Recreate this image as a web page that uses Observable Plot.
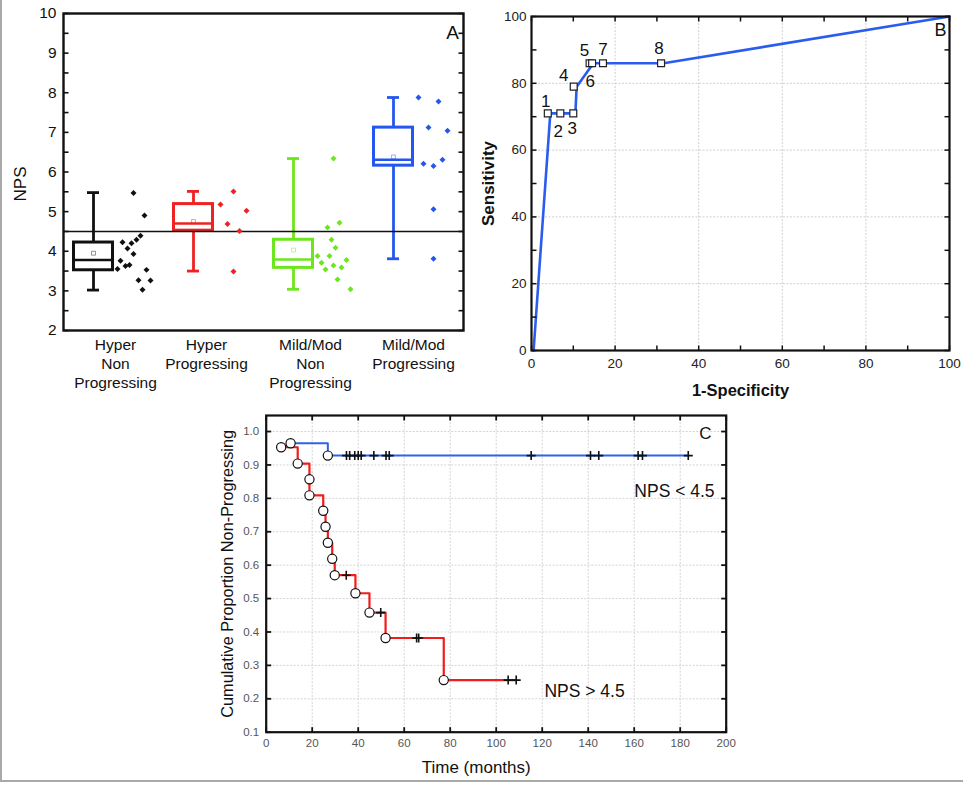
<!DOCTYPE html>
<html>
<head>
<meta charset="utf-8">
<script src="https://cdn.jsdelivr.net/npm/d3@7"></script>
<script src="https://cdn.jsdelivr.net/npm/@observablehq/plot@0.6"></script>
<style>
  body { margin: 0; background: #fff; }
  #fig { position: relative; width: 963px; height: 786px; overflow: hidden; background: #fff;
         font-family: "Liberation Sans", Arial, Helvetica, sans-serif; }
  .panel { position: absolute; }
  .panel svg { display: block; }
  #border { position: absolute; left: 0; top: 0; width: 961px; height: 780px;
            border-left: 2px solid #a9a9a9; border-bottom: 2px solid #a9a9a9; pointer-events: none; z-index: 2; }
</style>
</head>
<body>
<div id="fig">
  <div class="panel" id="pa" style="left:0px;top:0px"></div>
  <div class="panel" id="pb" style="left:470px;top:0px"></div>
  <div class="panel" id="pc" style="left:200px;top:400px"></div>
  <div id="border"></div>
</div>
<script>
// ---------------- DATA ----------------
// Panel A: NPS by group (box plots + individual values)
const groupLabels = ["Hyper\nNon\nProgressing", "Hyper\nProgressing", "Mild/Mod\nNon\nProgressing", "Mild/Mod\nProgressing"];
const groupColors = ["#111111", "#ee2222", "#6ee61e", "#2457ee"];
const boxMin    = [3.02, 3.50, 3.04, 3.81];
const boxQ1     = [3.52, 4.52, 3.58, 6.16];
const boxMedian = [3.78, 4.70, 3.79, 6.31];
const boxQ3     = [4.22, 5.19, 4.29, 7.12];
const boxMax    = [5.48, 5.51, 6.34, 7.88];
const boxMean   = [3.95, 4.75, 4.03, 6.38];
const npsCutoff = 4.5;

const hyperNonValues  = [5.47, 4.90, 4.39, 4.29, 4.20, 4.23, 4.07, 3.93, 3.76, 3.63, 3.65, 3.55, 3.53, 3.27, 3.26, 3.03];
const hyperNonJitter  = [0.40, 0.51, 0.47, 0.43, 0.38, 0.29, 0.34, 0.40, 0.27, 0.32, 0.36, 0.24, 0.53, 0.45, 0.57, 0.49];
const hyperProgValues = [5.51, 5.18, 5.02, 4.69, 4.51, 3.49];
const hyperProgJitter = [0.40, 0.27, 0.53, 0.34, 0.46, 0.40];
const mildNonValues   = [6.34, 4.72, 4.60, 4.29, 4.09, 3.88, 3.88, 3.71, 3.78, 3.64, 3.59, 3.54, 3.29, 3.04];
const mildNonJitter   = [0.40, 0.46, 0.34, 0.38, 0.42, 0.24, 0.36, 0.28, 0.53, 0.40, 0.48, 0.32, 0.44, 0.57];
const mildProgValues  = [7.88, 7.78, 7.12, 7.04, 6.21, 6.15, 6.31, 5.06, 3.81];
const mildProgJitter  = [0.25, 0.45, 0.35, 0.54, 0.30, 0.40, 0.49, 0.40, 0.40];
const yTicksA = [2, 3, 4, 5, 6, 7, 8, 9, 10];

// Panel B: ROC curve
const rocLabels = ["1", "2", "3", "4", "5", "6", "7", "8"];
const rocFpr    = [3.9, 6.9, 10.0, 10.1, 13.9, 14.5, 17.1, 31.0];
const rocSens   = [71, 71, 71, 79, 86, 86, 86, 86];
const rocLineFpr  = [0.5, 4.5, 10.5, 10.8, 14.8, 31.6, 100];
const rocLineSens = [0, 71, 71, 79, 86, 86, 100];
const ticksB = [0, 20, 40, 60, 80, 100];

// Panel C: Kaplan–Meier curves
const lowEventTime  = [10.6, 26.8];
const lowEventSurv  = [0.965, 0.928];
const lowCensorTime = [34.9, 36.3, 38.5, 40.0, 41.3, 46.8, 52.1, 53.5, 115.2, 141.0, 144.6, 161.7, 163.6, 183.5];
const highEventTime = [6.5, 13.7, 18.8, 18.8, 24.8, 25.8, 26.8, 28.7, 29.8, 38.8, 44.9, 51.9, 77.2];
const highEventSurv = [0.953, 0.904, 0.857, 0.809, 0.763, 0.715, 0.667, 0.619, 0.570, 0.516, 0.458, 0.382, 0.256];
const highCensorTime = [34.8, 49.8, 65.4, 66.3, 105.2, 108.7];
const xTicksC = [0, 20, 40, 60, 80, 100, 120, 140, 160, 180, 200];
const yTicksC = [0.1, 0.2, 0.3, 0.4, 0.5, 0.6, 0.7, 0.8, 0.9, 1.0];

// ---------------- HELPERS ----------------
const FONT = '"Liberation Sans", Arial, Helvetica, sans-serif';
const tickSym = (ux, uy) => ({ draw(ctx, size) { const l = Math.sqrt(size / Math.PI); ctx.moveTo(0, 0); ctx.lineTo(ux * l, uy * l); } });
const plusSym = { draw(ctx, size) { const l = Math.sqrt(size / Math.PI); ctx.moveTo(-l, 0); ctx.lineTo(l, 0); ctx.moveTo(0, -l); ctx.lineTo(0, l); } };

function frameTicks(xd, yd, xt, yt, len, sw) {
  const o = { r: len, fill: "none", stroke: "#111", strokeWidth: sw };
  const m = [];
  if (yt) {
    m.push(Plot.dot(yt, { ...o, x: () => xd[0], y: d => d, symbol: tickSym(1, 0) }));
    m.push(Plot.dot(yt, { ...o, x: () => xd[1], y: d => d, symbol: tickSym(-1, 0) }));
  }
  if (xt) {
    m.push(Plot.dot(xt, { ...o, y: () => yd[0], x: d => d, symbol: tickSym(0, -1) }));
    m.push(Plot.dot(xt, { ...o, y: () => yd[1], x: d => d, symbol: tickSym(0, 1) }));
  }
  return m;
}
function survAt(times, survs, t) {
  let s = 1;
  for (let i = 0; i < times.length; i++) if (times[i] <= t) s = survs[i];
  return s;
}

// ---------------- PANEL A ----------------
const boxes = groupLabels.map((g, k) => ({
  i: k + 1, label: g, color: groupColors[k],
  min: boxMin[k], q1: boxQ1[k], med: boxMedian[k], q3: boxQ3[k], max: boxMax[k], mean: boxMean[k]
}));
const pointSets = [[hyperNonValues, hyperNonJitter], [hyperProgValues, hyperProgJitter], [mildNonValues, mildNonJitter], [mildProgValues, mildProgJitter]];
const points = pointSets.flatMap(([vals, jit], k) => vals.map((v, j) => ({ i: k + 1, v, jit: jit[j], color: groupColors[k] })));
const BOXH = 0.195, CAP = 0.06;
const labelShift = [0.22, 0.13, 0.17, 0.20];
const xdA = [0.7, 4.7], ydA = [2, 10];

const plotA = Plot.plot({
  width: 470, height: 395,
  marginLeft: 63, marginRight: 7, marginTop: 13, marginBottom: 65,
  x: { domain: xdA, axis: null },
  y: { domain: ydA, axis: null },
  color: { type: "identity" },
  style: { fontFamily: FONT, background: "transparent", overflow: "visible", color: "#111" },
  marks: [
    Plot.axisY({ ticks: yTicksA, tickSize: 0, tickPadding: 7, fontSize: 15.5, fill: "#111", label: null }),
    Plot.ruleX(boxes, { x: "i", y1: "q3", y2: "max", stroke: "color", strokeWidth: 2.8 }),
    Plot.ruleX(boxes, { x: "i", y1: "q1", y2: "min", stroke: "color", strokeWidth: 2.8 }),
    Plot.ruleY(boxes, { y: "max", x1: d => d.i - CAP, x2: d => d.i + CAP, stroke: "color", strokeWidth: 2.8 }),
    Plot.ruleY(boxes, { y: "min", x1: d => d.i - CAP, x2: d => d.i + CAP, stroke: "color", strokeWidth: 2.8 }),
    Plot.rect(boxes, { x1: d => d.i - BOXH, x2: d => d.i + BOXH, y1: "q1", y2: "q3", fill: "white", stroke: "color", strokeWidth: 3 }),
    Plot.ruleY(boxes, { y: "med", x1: d => d.i - BOXH, x2: d => d.i + BOXH, stroke: "color", strokeWidth: 2.5 }),
    Plot.dot(boxes, { x: "i", y: "mean", symbol: "square", r: 2.2, fill: "none", stroke: "color", strokeOpacity: 0.45, strokeWidth: 1 }),
    Plot.ruleY([npsCutoff], { stroke: "#111", strokeWidth: 1.5 }),
    Plot.dot(points, { x: d => d.i + d.jit, y: "v", symbol: "diamond2", r: 2.7, fill: "color", stroke: "none" }),
    ...frameTicks(xdA, ydA, null, d3.range(2, 10.01, 0.5), 5, 1.6),
    Plot.frame({ stroke: "#111", strokeWidth: 2.4 }),
    Plot.text(boxes, { x: d => d.i + labelShift[d.i - 1], text: "label", frameAnchor: "bottom", dy: 6,
      lineAnchor: "top", textAnchor: "middle", fontSize: 15.5, lineHeight: 1.23, fill: "#111" }),
    Plot.text(["NPS"], { frameAnchor: "left", dx: -43, dy: 12, rotate: -90, textAnchor: "middle", lineAnchor: "middle", fontSize: 17, fill: "#111" }),
    Plot.text(["A"], { frameAnchor: "top-right", dx: -11, dy: 19, textAnchor: "middle", lineAnchor: "middle", fontSize: 19, fill: "#111" })
  ]
});
document.getElementById("pa").appendChild(plotA);

// ---------------- PANEL B ----------------
const rocPts = rocLabels.map((l, k) => ({ label: l, fpr: rocFpr[k], sens: rocSens[k] }));
const rocLine = rocLineFpr.map((f, k) => ({ fpr: f, sens: rocLineSens[k] }));
const labelOffB = [[-2, -12], [-2, 18], [-1, 15], [-10, -11], [-5, -13], [-2, 18], [0, -14], [-2, -15]];
const xdB = [0, 100], ydB = [0, 100];
const gridB = [20, 40, 60, 80];

const plotB = Plot.plot({
  width: 493, height: 400,
  marginLeft: 61, marginRight: 14, marginTop: 16, marginBottom: 50,
  x: { domain: xdB, axis: null },
  y: { domain: ydB, axis: null },
  style: { fontFamily: FONT, background: "transparent", overflow: "visible", color: "#111" },
  marks: [
    Plot.ruleX(gridB, { stroke: "#cfcfcf", strokeWidth: 1, strokeDasharray: "2,1.5" }),
    Plot.ruleY(gridB, { stroke: "#cfcfcf", strokeWidth: 1, strokeDasharray: "2,1.5" }),
    Plot.axisX({ ticks: ticksB, tickSize: 0, tickPadding: 8, fontSize: 13.5, fill: "#222", label: null }),
    Plot.axisY({ ticks: ticksB, tickSize: 0, tickPadding: 5, fontSize: 13.5, fill: "#222", label: null }),
    Plot.line(rocLine, { x: "fpr", y: "sens", stroke: "#2a5cf0", strokeWidth: 2.6 }),
    Plot.dot(rocPts, { x: "fpr", y: "sens", symbol: "square", r: 3.9, fill: "white", stroke: "#222", strokeWidth: 1.2 }),
    ...rocPts.map((p, k) => Plot.text([p], { x: "fpr", y: "sens", text: "label", dx: labelOffB[k][0], dy: labelOffB[k][1],
      textAnchor: "middle", lineAnchor: "middle", fontSize: 17, fill: "#111" })),
    ...frameTicks(xdB, ydB, d3.range(0, 101, 10), d3.range(0, 101, 10), 5, 1.5),
    Plot.frame({ stroke: "#111", strokeWidth: 2.2 }),
    Plot.text(["Sensitivity"], { frameAnchor: "left", dx: -43, rotate: -90, textAnchor: "middle", lineAnchor: "middle", fontSize: 17, fontWeight: "bold", fill: "#111" }),
    Plot.text(["1-Specificity"], { frameAnchor: "bottom", dy: 40, textAnchor: "middle", lineAnchor: "middle", fontSize: 16.5, fontWeight: "bold", fill: "#111" }),
    Plot.text(["B"], { frameAnchor: "top-right", dx: -9, dy: 14, textAnchor: "middle", lineAnchor: "middle", fontSize: 18, fill: "#111" })
  ]
});
document.getElementById("pb").appendChild(plotB);

// ---------------- PANEL C ----------------
const lowLast = lowCensorTime[lowCensorTime.length - 1];
const highLast = highCensorTime[highCensorTime.length - 1];
const lowLine = lowEventTime.map((t, k) => ({ t, s: lowEventSurv[k] })).concat([{ t: lowLast, s: lowEventSurv[lowEventSurv.length - 1] }]);
const highLine = highEventTime.map((t, k) => ({ t, s: highEventSurv[k] })).concat([{ t: highLast, s: highEventSurv[highEventSurv.length - 1] }]);
const lowEvents = lowEventTime.map((t, k) => ({ t, s: lowEventSurv[k] }));
const highEvents = highEventTime.map((t, k) => ({ t, s: highEventSurv[k] }));
const censors = lowCensorTime.map(t => ({ t, s: survAt(lowEventTime, lowEventSurv, t) }))
  .concat(highCensorTime.map(t => ({ t, s: survAt(highEventTime, highEventSurv, t) })));
const xdC = [0, 200], ydC = [0.1, 1.048];

const plotC = Plot.plot({
  width: 560, height: 386,
  marginLeft: 65.7, marginRight: 34.3, marginTop: 15, marginBottom: 54.3,
  x: { domain: xdC, axis: null },
  y: { domain: ydC, axis: null },
  style: { fontFamily: FONT, background: "transparent", overflow: "visible", color: "#111" },
  marks: [
    Plot.ruleX(xTicksC.slice(1, -1), { stroke: "#d4d4d4", strokeWidth: 1, strokeDasharray: "2,1.5" }),
    Plot.ruleY(yTicksC.slice(1), { stroke: "#d4d4d4", strokeWidth: 1, strokeDasharray: "2,1.5" }),
    Plot.axisX({ ticks: xTicksC, tickSize: 0, tickPadding: 7, fontSize: 11.5, fill: "#555", label: null }),
    Plot.axisY({ ticks: yTicksC, tickSize: 0, tickPadding: 7, fontSize: 11.5, fill: "#555", label: null, tickFormat: d3.format(".1f") }),
    Plot.line(lowLine, { x: "t", y: "s", curve: "step-after", stroke: "#2f62e6", strokeWidth: 2 }),
    Plot.line(highLine, { x: "t", y: "s", curve: "step-after", stroke: "#f21c1c", strokeWidth: 2.2 }),
    Plot.dot(censors, { x: "t", y: "s", symbol: plusSym, r: 4.5, fill: "none", stroke: "#111", strokeWidth: 1.6 }),
    Plot.dot(highEvents, { x: "t", y: "s", r: 4.6, fill: "white", stroke: "#111", strokeWidth: 1.2 }),
    Plot.dot(lowEvents, { x: "t", y: "s", r: 4.6, fill: "white", stroke: "#111", strokeWidth: 1.2 }),
    ...frameTicks(xdC, ydC, xTicksC, yTicksC, 5, 1.8),
    Plot.frame({ stroke: "#111", strokeWidth: 2.2 }),
    Plot.text(["Time (months)"], { frameAnchor: "bottom", dx: -20, dy: 35.5, textAnchor: "middle", lineAnchor: "middle", fontSize: 17, fill: "#111" }),
    Plot.text(["Cumulative Proportion Non-Progressing"], { frameAnchor: "left", dx: -38.7, rotate: -90, textAnchor: "middle", lineAnchor: "middle", fontSize: 16.3, fill: "#111" }),
    Plot.text(["C"], { frameAnchor: "top-right", dx: -20.7, dy: 18.3, textAnchor: "middle", lineAnchor: "middle", fontSize: 17, fill: "#111" }),
    Plot.text(["NPS < 4.5"], { x: () => 177.5, y: () => 0.82, textAnchor: "middle", lineAnchor: "middle", fontSize: 17.5, fill: "#111" }),
    Plot.text(["NPS > 4.5"], { x: () => 138.4, y: () => 0.2227, textAnchor: "middle", lineAnchor: "middle", fontSize: 17.5, fill: "#111" })
  ]
});
document.getElementById("pc").appendChild(plotC);
</script>
</body>
</html>
